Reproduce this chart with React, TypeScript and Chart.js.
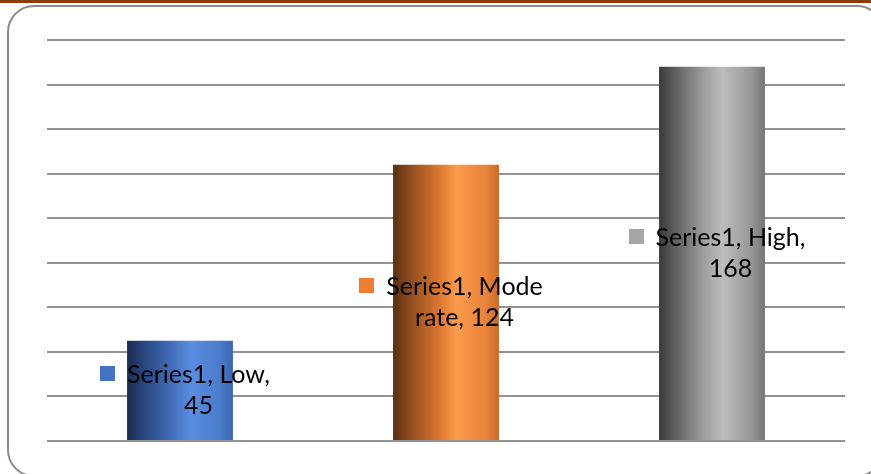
import React, { useEffect, useRef } from "react";
import { Chart, registerables } from "chart.js";

Chart.register(...registerables);

// Chart data
const seriesName = "Series1";
const categories = ["Low", "Moderate", "High"];
const values = [45, 124, 168];
const yMax = 180;
const yStep = 20;

// Legend-key colours shown beside each data label
const keyColors = ["#4472C4", "#ED7D31", "#A5A5A5"];

// Horizontal shading stops for each bar (cylinder-like highlight)
const blueStops: [number, string][] = [
  [0, "#1a2b50"],
  [0.2, "#2c4c89"],
  [0.45, "#4472c0"],
  [0.6, "#5a8de0"],
  [0.88, "#4b7ccc"],
  [1, "#3b64ae"],
];
const orangeStops: [number, string][] = [
  [0, "#5a2f12"],
  [0.2, "#9a5220"],
  [0.45, "#e07a32"],
  [0.6, "#fa9b4b"],
  [0.88, "#e9833a"],
  [1, "#c96a2a"],
];
const grayStops: [number, string][] = [
  [0, "#3a3a3a"],
  [0.2, "#6a6a6a"],
  [0.45, "#a3a3a3"],
  [0.6, "#bdbdbd"],
  [0.88, "#959595"],
  [1, "#747474"],
];
const barStops = [blueStops, orangeStops, grayStops];

const BAR_PCT = 0.398;
const LABEL_FONT = "25px Lato";
const LABEL_LINE_H = 31;
const LABEL_WRAP = 159;
const KEY_SIZE = 15;
const KEY_GAP = 12;

function wrapText(ctx: CanvasRenderingContext2D, text: string, maxWidth: number): string[] {
  const lines: string[] = [];
  let line = "";
  for (const ch of text) {
    const test = line + ch;
    if (line && ctx.measureText(test.trimEnd()).width > maxWidth) {
      lines.push(line.trim());
      line = ch === " " ? "" : ch;
    } else {
      line = test;
    }
  }
  if (line.trim()) lines.push(line.trim());
  return lines;
}

// Draws "Series1, <category>, <value>" with a legend key, centred in each bar
const dataLabelPlugin = {
  id: "dataLabelsWithKey",
  afterDatasetsDraw(chart: Chart) {
    const ctx = chart.ctx;
    const meta = chart.getDatasetMeta(0);
    ctx.save();
    ctx.font = LABEL_FONT;
    ctx.fillStyle = "#000000";
    ctx.textBaseline = "middle";
    meta.data.forEach((bar: any, i: number) => {
      const { x, y, base } = bar.getProps(["x", "y", "base"], true);
      const text = `${seriesName}, ${categories[i]}, ${values[i]}`;
      const lines = wrapText(ctx, text, LABEL_WRAP);
      const textW = Math.max(...lines.map((l) => ctx.measureText(l).width));
      const blockW = KEY_SIZE + KEY_GAP + textW;
      const left = x - blockW / 2 + 5;
      const cy = (y + base) / 2;
      const top = cy - (lines.length * LABEL_LINE_H) / 2;
      const textLeft = left + KEY_SIZE + KEY_GAP;
      const textCenter = textLeft + textW / 2;
      const firstMid = top + LABEL_LINE_H / 2;
      ctx.fillStyle = keyColors[i];
      ctx.fillRect(Math.round(left), Math.round(firstMid - KEY_SIZE / 2 - 1), KEY_SIZE, KEY_SIZE);
      ctx.fillStyle = "#000000";
      lines.forEach((l, k) => {
        const ly = top + LABEL_LINE_H * (k + 0.5);
        if (k === 0) {
          ctx.textAlign = "left";
          ctx.fillText(l, textLeft, ly);
        } else {
          ctx.textAlign = "center";
          ctx.fillText(l, textCenter, ly);
        }
      });
    });
    ctx.restore();
  },
};

export default function App() {
  const canvasRef = useRef<HTMLCanvasElement | null>(null);

  useEffect(() => {
    if (!canvasRef.current) return;
    const chart = new Chart(canvasRef.current, {
      type: "bar",
      data: {
        labels: categories,
        datasets: [
          {
            label: seriesName,
            data: values,
            borderWidth: 0,
            barPercentage: BAR_PCT,
            categoryPercentage: 1,
            backgroundColor: (c: any) => {
              const ch = c.chart;
              const xs = ch.scales.x;
              const i = c.dataIndex ?? 0;
              const stops = barStops[i % barStops.length];
              if (!xs || !ch.chartArea) return keyColors[i];
              const cx = xs.getPixelForValue(i);
              const half = (xs.width / categories.length) * BAR_PCT / 2;
              const g = ch.ctx.createLinearGradient(cx - half, 0, cx + half, 0);
              stops.forEach(([p, col]) => g.addColorStop(p, col));
              return g;
            },
          },
        ],
      },
      options: {
        animation: false,
        responsive: false,
        maintainAspectRatio: false,
        layout: { padding: { left: 47, right: 26, top: 40, bottom: 33 } },
        plugins: {
          legend: { display: false },
          tooltip: { enabled: false },
          title: { display: false },
        },
        scales: {
          x: { display: false },
          y: {
            min: 0,
            max: yMax,
            ticks: { display: false, stepSize: yStep },
            border: { display: false },
            grid: { color: "#929292", lineWidth: 2, drawTicks: false },
          },
        },
      },
      plugins: [dataLabelPlugin],
    });
    return () => chart.destroy();
  }, []);

  return (
    <div
      style={{
        position: "fixed",
        left: 0,
        top: 0,
        width: 871,
        height: 474,
        overflow: "hidden",
        background: "#ffffff",
      }}
    >
      <div
        style={{
          position: "absolute",
          left: 0,
          top: 0,
          width: "100%",
          height: 3,
          background: "#8c3b0d",
        }}
      />
      <div
        style={{
          position: "absolute",
          left: 7,
          top: 5,
          width: 877,
          height: 472,
          border: "2px solid #8a8a8a",
          borderRadius: 27,
          boxSizing: "border-box",
        }}
      />
      <canvas
        ref={canvasRef}
        width={871}
        height={474}
        style={{ position: "absolute", left: 0, top: 0, width: 871, height: 474 }}
      />
    </div>
  );
}
